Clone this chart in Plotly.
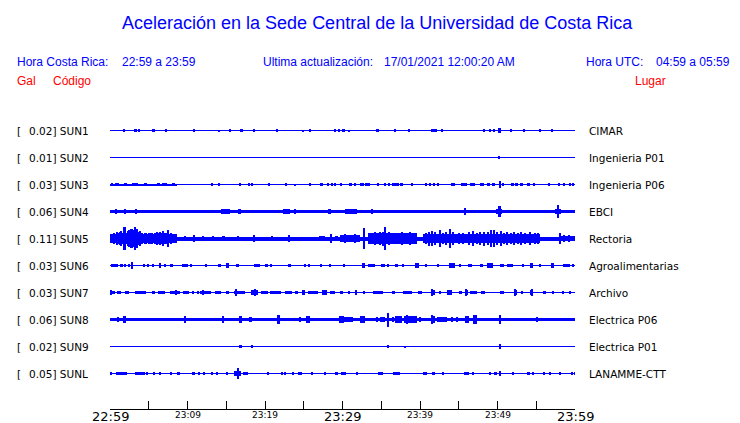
import plotly.graph_objects as go

# ---------------- data ----------------
STATIONS = ["SUN1", "SUN2", "SUN3", "SUN4", "SUN5", "SUN6", "SUN7", "SUN8", "SUN9", "SUNL"]
PLACES = ["CIMAR", "Ingenieria P01", "Ingenieria P06", "EBCI", "Rectoria",
          "Agroalimentarias", "Archivo", "Electrica P06", "Electrica P01", "LANAMME-CTT"]
PEAK_GAL = [0.02, 0.01, 0.03, 0.06, 0.11, 0.03, 0.03, 0.06, 0.02, 0.05]
# background noise half-amplitude (Gal)
NOISE_GAL = [0.0049, 0.0049, 0.0049, 0.0146, 0.0194, 0.0049, 0.0049, 0.0175, 0.0049, 0.0049]

TICK_MIN = [0, 5, 10, 15, 20, 25, 30, 35, 40, 45, 50, 55, 60]
TICK_LABELS = ["22:59", "", "23:09", "", "23:19", "", "23:29", "", "23:39", "", "23:49", "", "23:59"]
MAJOR_LABELS = ["22:59", "23:29", "23:59"]

# events: (minute after 22:59, duration in minutes, half amplitude in Gal)
SUN1_EV = [(1.81, 0.13, 0.010), (3.28, 0.3, 0.015), (3.75, 0.13, 0.010), (5.6, 0.35, 0.015),
           (7.28, 0.25, 0.015), (10.82, 0.2, 0.015), (14.09, 0.13, 0.008), (15.51, 0.15, 0.015),
           (16.98, 0.45, 0.016), (18.57, 0.15, 0.015), (21.59, 0.13, 0.010), (24.86, 0.13, 0.008),
           (25.81, 0.2, 0.015), (29.08, 0.13, 0.010), (29.6, 0.13, 0.010), (30.16, 0.2, 0.015),
           (30.9, 0.13, 0.008), (34.55, 0.25, 0.015), (36.75, 0.3, 0.015), (38.64, 0.15, 0.015),
           (41.5, 0.15, 0.015), (41.8, 0.15, 0.015), (42.1, 0.15, 0.015), (42.9, 0.13, 0.010),
           (48.21, 0.13, 0.010), (49.1, 0.15, 0.015), (49.5, 0.15, 0.015), (50.28, 0.4, 0.020),
           (51.74, 0.25, 0.015), (53.38, 0.13, 0.010), (55.53, 0.15, 0.015), (57.04, 0.15, 0.015)]

SUN2_EV = [(50.28, 0.2, 0.017)]

SUN3_EV = [(4.3, 8.6, 0.0097), (0.3, 0.3, 0.015), (0.9, 0.4, 0.015), (2.0, 0.3, 0.015),
           (3.2, 0.8, 0.015), (4.6, 0.3, 0.015), (6.2, 0.4, 0.015), (7.0, 0.6, 0.015), (8.2, 0.4, 0.015),
           (13.19, 0.13, 0.010), (14.05, 0.3, 0.015), (16.76, 0.15, 0.015), (17.97, 0.13, 0.010),
           (18.4, 0.2, 0.015), (20.55, 0.25, 0.015), (22.79, 0.2, 0.015), (23.91, 0.13, 0.008),
           (25.76, 0.15, 0.015), (27.32, 0.4, 0.012), (28.09, 0.13, 0.012), (28.61, 0.13, 0.012),
           (29.04, 0.13, 0.010), (29.81, 0.35, 0.015), (31.0, 0.4, 0.015), (31.6, 0.2, 0.015),
           (32.5, 0.5, 0.015), (33.2, 0.6, 0.015), (34.64, 0.15, 0.012), (35.5, 0.15, 0.012),
           (36.0, 0.3, 0.012), (36.9, 0.9, 0.015), (37.6, 0.3, 0.012), (38.95, 0.15, 0.012),
           (40.8, 0.15, 0.011), (41.3, 0.25, 0.011), (41.8, 0.2, 0.011), (42.3, 0.3, 0.011),
           (44.24, 0.6, 0.015), (45.66, 0.7, 0.016), (46.8, 0.6, 0.015), (47.99, 0.5, 0.015),
           (48.8, 0.35, 0.012), (49.5, 0.4, 0.015), (50.33, 0.3, 0.036), (50.7, 0.2, 0.016),
           (51.9, 0.4, 0.015), (52.5, 0.4, 0.015), (53.1, 0.3, 0.015), (54.02, 0.4, 0.012),
           (54.66, 0.15, 0.012), (56.6, 0.13, 0.010), (57.89, 0.13, 0.010), (58.63, 0.13, 0.012),
           (59.4, 0.13, 0.012), (59.83, 0.2, 0.015)]

SUN4_EV = [(4.3, 8.6, 0.019), (0.74, 0.15, 0.026), (1.99, 0.15, 0.026), (3.41, 0.15, 0.023),
           (9.2, 0.7, 0.019), (11.05, 1.5, 0.019), (12.3, 0.2, 0.019), (13.0, 0.3, 0.019),
           (13.5, 0.15, 0.019), (14.9, 1.2, 0.024), (15.9, 0.4, 0.019), (16.76, 0.4, 0.024),
           (18.8, 3.2, 0.019), (20.77, 0.15, 0.019), (21.2, 0.25, 0.019), (22.06, 0.25, 0.019),
           (22.79, 0.9, 0.024), (23.87, 0.2, 0.029), (24.47, 0.35, 0.019), (26.24, 0.15, 0.019),
           (27.4, 0.7, 0.019), (28.3, 0.4, 0.024), (28.95, 0.25, 0.019), (29.9, 0.45, 0.019),
           (31.06, 1.5, 0.024), (32.9, 1.3, 0.019), (33.87, 0.15, 0.026), (35.5, 1.7, 0.019),
           (37.1, 1.1, 0.019), (38.73, 1.3, 0.019), (40.5, 1.5, 0.019), (42.17, 0.9, 0.019),
           (43.9, 2.6, 0.019), (45.84, 0.2, 0.032), (47.69, 2.4, 0.019), (49.58, 0.7, 0.019),
           (50.2, 0.8, 0.026), (50.28, 0.25, 0.058), (51.44, 1.3, 0.019), (54.45, 4.3, 0.019),
           (57.8, 0.8, 0.029), (57.77, 0.3, 0.066), (59.1, 1.5, 0.019)]

SUN5_EV = [(0.1, 0.2, 0.039), (0.3, 0.2, 0.045), (0.5, 0.2, 0.058), (0.7, 0.2, 0.042), (0.9, 0.2, 0.065),
           (1.1, 0.2, 0.052), (1.3, 0.2, 0.061), (1.5, 0.2, 0.071), (1.7, 0.2, 0.055), (1.9, 0.2, 0.110),
           (2.1, 0.2, 0.058), (2.3, 0.2, 0.071), (2.5, 0.2, 0.084), (2.7, 0.2, 0.091), (2.9, 0.2, 0.097),
           (3.1, 0.2, 0.081), (3.3, 0.2, 0.110), (3.5, 0.2, 0.091), (3.7, 0.2, 0.065), (3.9, 0.2, 0.074),
           (4.1, 0.2, 0.055), (4.3, 0.2, 0.045), (4.5, 0.2, 0.058), (4.7, 0.2, 0.049), (4.9, 0.2, 0.042),
           (5.1, 0.2, 0.055), (5.3, 0.2, 0.049), (5.5, 0.2, 0.058), (5.7, 0.2, 0.045), (5.9, 0.2, 0.052),
           (6.1, 0.2, 0.061), (6.3, 0.2, 0.049), (6.5, 0.2, 0.065), (6.7, 0.2, 0.055), (6.9, 0.2, 0.071),
           (7.1, 0.2, 0.058), (7.3, 0.2, 0.052), (7.5, 0.2, 0.084), (7.7, 0.2, 0.045), (7.9, 0.2, 0.049),
           (8.1, 0.2, 0.042), (8.3, 0.2, 0.045), (8.5, 0.2, 0.039),
           (9.7, 0.3, 0.026), (10.86, 0.3, 0.032), (12.02, 0.15, 0.026), (13.3, 0.15, 0.023),
           (14.6, 0.4, 0.026), (16.55, 0.15, 0.029), (18.6, 0.15, 0.032), (20.94, 0.25, 0.029),
           (23.14, 0.15, 0.032), (27.32, 0.8, 0.026), (28.5, 0.15, 0.045), (29.25, 0.4, 0.029),
           (31.0, 2.6, 0.036), (36.45, 6.3, 0.049), (42.5, 4.1, 0.042), (45.6, 2.2, 0.045),
           (51.1, 8.8, 0.045), (59.05, 1.9, 0.029),
           (30.3, 0.15, 0.045), (31.6, 0.15, 0.040), (32.83, 0.15, 0.104), (33.6, 0.15, 0.058),
           (34.2, 0.15, 0.065), (34.8, 0.15, 0.061), (35.2, 0.15, 0.068), (35.55, 0.15, 0.110),
           (36.0, 0.15, 0.065), (36.6, 0.15, 0.058), (37.2, 0.15, 0.055), (37.7, 0.15, 0.061),
           (38.2, 0.15, 0.052), (38.73, 0.15, 0.065), (39.2, 0.15, 0.050), (40.8, 0.15, 0.058),
           (41.2, 0.15, 0.068), (41.6, 0.15, 0.071), (42.0, 0.15, 0.065), (42.6, 0.15, 0.081),
           (43.0, 0.15, 0.058), (43.4, 0.15, 0.065), (43.9, 0.15, 0.091), (44.3, 0.15, 0.061),
           (45.0, 0.15, 0.055), (45.6, 0.15, 0.049), (46.3, 0.15, 0.061), (46.9, 0.15, 0.071),
           (47.4, 0.15, 0.058), (47.8, 0.15, 0.065), (48.3, 0.15, 0.068), (48.8, 0.15, 0.061),
           (49.2, 0.15, 0.078), (49.5, 0.15, 0.087), (49.9, 0.15, 0.065), (50.4, 0.15, 0.071),
           (50.8, 0.15, 0.058), (51.3, 0.15, 0.061), (51.7, 0.15, 0.055), (52.08, 0.15, 0.065),
           (52.6, 0.15, 0.058), (53.1, 0.15, 0.061), (53.6, 0.15, 0.052), (54.24, 0.15, 0.065),
           (54.8, 0.15, 0.055), (55.3, 0.15, 0.049), (58.11, 0.15, 0.052), (58.6, 0.15, 0.036),
           (59.3, 0.15, 0.032)]

SUN6_EV = [(0.56, 0.9, 0.019), (1.47, 0.4, 0.016), (1.99, 0.15, 0.016), (2.42, 0.3, 0.016),
           (2.85, 0.3, 0.032), (4.4, 0.15, 0.013), (4.91, 0.15, 0.013), (5.56, 0.3, 0.016),
           (6.42, 0.15, 0.023), (7.07, 0.15, 0.013), (7.93, 0.4, 0.016), (9.65, 0.8, 0.016),
           (10.43, 0.15, 0.013), (12.45, 0.2, 0.013), (14.18, 0.4, 0.016), (15.17, 0.3, 0.023),
           (16.46, 0.4, 0.016), (18.96, 0.7, 0.016), (20.2, 0.4, 0.016), (20.85, 0.2, 0.013),
           (23.18, 0.4, 0.019), (25.16, 0.2, 0.016), (25.68, 0.3, 0.016), (27.23, 0.3, 0.016),
           (28.44, 0.13, 0.010), (30.25, 0.2, 0.013), (32.7, 0.3, 0.023), (33.8, 0.9, 0.016),
           (35.2, 0.5, 0.016), (35.93, 0.2, 0.013), (37.0, 0.2, 0.013), (37.79, 0.2, 0.013),
           (39.6, 0.5, 0.026), (40.8, 0.2, 0.013), (42.38, 0.15, 0.013), (44.15, 0.7, 0.023),
           (45.19, 0.2, 0.013), (46.4, 0.5, 0.016), (47.9, 0.4, 0.016), (49.03, 0.7, 0.023),
           (50.58, 0.4, 0.016), (51.65, 0.8, 0.016), (53.25, 0.3, 0.016), (54.4, 0.35, 0.023),
           (55.53, 0.15, 0.013), (57.08, 0.35, 0.023), (58.93, 0.9, 0.016), (59.83, 0.2, 0.016)]

SUN7_EV = [(0.05, 0.3, 0.023), (0.48, 0.2, 0.016), (1.21, 0.5, 0.019), (2.16, 0.5, 0.019),
           (3.92, 1.5, 0.016), (5.56, 0.4, 0.016), (6.6, 0.9, 0.016), (8.36, 1.3, 0.019),
           (8.58, 0.15, 0.026), (9.83, 0.8, 0.016), (10.73, 0.15, 0.013), (11.38, 0.2, 0.016),
           (12.32, 1.3, 0.019), (12.02, 0.2, 0.026), (13.92, 0.8, 0.016), (15.17, 0.3, 0.016),
           (16.72, 1.4, 0.019), (16.33, 0.15, 0.032), (18.7, 0.9, 0.023), (18.7, 0.15, 0.032),
           (19.99, 0.9, 0.019), (21.37, 1.5, 0.016), (23.01, 0.9, 0.016), (24.08, 0.4, 0.016),
           (24.95, 0.4, 0.026), (26.24, 1.3, 0.016), (27.66, 0.6, 0.023), (28.74, 0.6, 0.016),
           (29.9, 0.4, 0.016), (30.85, 0.2, 0.016), (31.71, 0.3, 0.023), (32.79, 0.2, 0.016),
           (34.55, 1.3, 0.016), (36.58, 0.4, 0.016), (38.39, 1.1, 0.016), (40.0, 0.4, 0.016),
           (41.66, 0.6, 0.023), (41.6, 0.15, 0.032), (42.6, 0.2, 0.016), (43.81, 0.6, 0.023),
           (45.19, 0.4, 0.016), (46.05, 0.4, 0.023), (46.0, 0.15, 0.032), (46.92, 0.9, 0.016),
           (48.12, 0.6, 0.016), (50.54, 0.5, 0.016), (52.3, 0.4, 0.023), (52.3, 0.15, 0.032),
           (53.16, 0.2, 0.016), (54.4, 0.35, 0.023), (54.4, 0.15, 0.032), (56.09, 0.4, 0.016),
           (57.25, 0.2, 0.013), (58.54, 0.2, 0.013), (59.41, 0.2, 0.013)]

SUN8_EV = [(1.04, 0.2, 0.029), (1.9, 0.2, 0.032), (9.65, 0.2, 0.032), (14.61, 0.2, 0.032),
           (16.89, 0.25, 0.032), (18.18, 0.25, 0.029), (21.72, 0.35, 0.039), (24.52, 0.2, 0.029),
           (25.59, 0.5, 0.032), (29.9, 0.6, 0.036), (30.5, 1.7, 0.026), (32.57, 0.6, 0.032),
           (34.42, 0.3, 0.026), (35.2, 0.6, 0.029), (35.93, 0.15, 0.068), (36.5, 0.3, 0.026),
           (37.23, 0.9, 0.032), (38.73, 1.7, 0.032), (38.3, 0.2, 0.039), (40.0, 0.2, 0.026),
           (41.66, 0.6, 0.036), (41.6, 0.15, 0.042), (42.82, 1.3, 0.026), (44.1, 0.2, 0.026),
           (44.76, 0.2, 0.026), (46.05, 0.5, 0.032), (47.13, 0.5, 0.039), (50.37, 0.25, 0.042),
           (55.1, 0.15, 0.023)]

SUN9_EV = [(16.89, 0.25, 0.016), (18.35, 0.13, 0.010), (35.93, 0.15, 0.013), (38.09, 0.13, 0.009),
           (50.37, 0.2, 0.023)]

SUNL_EV = [(0.09, 0.15, 0.012), (1.51, 1.4, 0.016), (3.88, 1.2, 0.016), (4.83, 0.15, 0.012),
           (5.69, 0.15, 0.012), (6.42, 0.15, 0.012), (7.93, 0.15, 0.012), (8.79, 0.4, 0.015),
           (10.77, 0.4, 0.015), (11.46, 0.15, 0.012), (12.15, 0.15, 0.012), (13.19, 0.15, 0.012),
           (13.88, 0.15, 0.012), (15.08, 0.3, 0.015), (16.46, 1.0, 0.023), (16.55, 0.15, 0.058),
           (17.5, 0.6, 0.016), (20.34, 0.15, 0.012), (22.15, 0.15, 0.012), (22.58, 0.15, 0.012),
           (23.57, 0.15, 0.012), (24.52, 0.6, 0.016), (26.02, 0.15, 0.010), (27.75, 0.15, 0.010),
           (29.25, 0.4, 0.015), (30.11, 0.6, 0.015), (31.84, 0.15, 0.010), (34.94, 0.6, 0.016),
           (36.97, 0.8, 0.016), (40.67, 0.5, 0.015), (41.75, 0.4, 0.015), (42.95, 0.15, 0.012),
           (45.97, 0.6, 0.016), (46.92, 0.2, 0.015), (48.99, 0.15, 0.012), (49.76, 0.3, 0.015),
           (50.37, 0.2, 0.026), (51.95, 0.15, 0.012), (54.02, 0.4, 0.015), (54.58, 0.15, 0.012),
           (55.96, 0.15, 0.012), (56.82, 0.15, 0.012), (58.11, 0.15, 0.010), (59.62, 0.15, 0.012),
           (59.95, 0.1, 0.012)]

EVENTS = [SUN1_EV, SUN2_EV, SUN3_EV, SUN4_EV, SUN5_EV, SUN6_EV, SUN7_EV, SUN8_EV, SUN9_EV, SUNL_EV]

# ---------------- layout geometry (pixels) ----------------
W, H = 740, 423
L, R, T, B = 110, 165, 117, 14
PW, PH = W - L - R, H - T - B
PX_PER_GAL = 103.0
ROW_PX = 27.0
FIRST_ROW_PX = 130.5  # y pixel of first trace centre

ROW_GAL = ROW_PX / PX_PER_GAL
Y_TOP = (FIRST_ROW_PX - T) / PX_PER_GAL
Y_BOT = Y_TOP - PH / PX_PER_GAL

BLUE = "#0000FF"
RED = "#FF0000"


def px_x(px):
    return (px - L) / PW


def px_y(py):
    return 1 - (py - T) / PH


fig = go.Figure()

for k, ev in enumerate(EVENTS):
    off = -k * ROW_GAL
    n = NOISE_GAL[k]
    xs = [30.0] + [e[0] for e in ev]
    ws = [60.0] + [e[1] for e in ev]
    hs = [2 * n] + [2 * e[2] for e in ev]
    bs = [off - n] + [off - e[2] for e in ev]
    fig.add_trace(go.Bar(x=xs, y=hs, base=bs, width=ws,
                         marker=dict(color=BLUE, line=dict(width=0)),
                         hoverinfo="skip", showlegend=False))

annotations = []


def add_text(text, x, y, size, color, family, anchor="left"):
    annotations.append(dict(text=text, x=px_x(x), y=px_y(y), xref="paper", yref="paper",
                            showarrow=False, xanchor=anchor, yanchor="middle",
                            font=dict(size=size, color=color, family=family)))


SANS = "Liberation Sans, Arial, sans-serif"
DJ = "DejaVu Sans, sans-serif"

# title and header
add_text("Aceleración en la Sede Central de la Universidad de Costa Rica", 377, 23, 18, BLUE, SANS, "center")
add_text("Hora Costa Rica:", 15, 61.5, 12, BLUE, SANS)
add_text("22:59 a 23:59", 120, 61.5, 12, BLUE, SANS)
add_text("Ultima actualización:", 261, 61.5, 12, BLUE, SANS)
add_text("17/01/2021 12:00:20 AM", 381.5, 61.5, 12, BLUE, SANS)
add_text("Hora UTC:", 583.5, 61.5, 12, BLUE, SANS)
add_text("04:59 a 05:59", 653.5, 61.5, 12, BLUE, SANS)
add_text("Gal", 15, 81, 12, RED, SANS)
add_text("Código", 50.5, 81, 12, RED, SANS)
add_text("Lugar", 633, 81, 12, RED, SANS)

# row labels
for k, st in enumerate(STATIONS):
    yc = FIRST_ROW_PX + k * ROW_PX
    add_text("[", 14.5, yc, 10.5, "black", DJ)
    add_text(f"{PEAK_GAL[k]:.2f}] {st}", 27.3, yc, 10.5, "black", DJ)
    add_text(PLACES[k], 587.3, yc, 10.5, "black", DJ)

# time tick labels
for tv, tl in zip(TICK_MIN, TICK_LABELS):
    if not tl:
        continue
    big = tl in MAJOR_LABELS
    annotations.append(dict(text=tl, x=tv, xref="x", y=px_y(416.5 if big else 415), yref="paper",
                            showarrow=False, xanchor="center", yanchor="middle",
                            font=dict(size=13 if big else 9, color="black", family=DJ)))

fig.update_layout(
    width=W, height=H,
    margin=dict(l=L, r=R, t=T, b=B, pad=0),
    paper_bgcolor="white", plot_bgcolor="white",
    barmode="overlay", bargap=0,
    showlegend=False,
    annotations=annotations,
    xaxis=dict(range=[0, 60], showgrid=False, zeroline=False, showline=True,
               linecolor="black", linewidth=1, ticks="inside", ticklen=8, tickwidth=1,
               tickcolor="black", tickvals=TICK_MIN, showticklabels=False, fixedrange=True),
    yaxis=dict(range=[Y_BOT, Y_TOP], visible=False, fixedrange=True),
)

fig.write_html("out.html", config={"displayModeBar": False},
               post_script="document.body.style.margin='0';document.body.style.padding='0';"
                           "document.body.style.overflow='hidden';")
